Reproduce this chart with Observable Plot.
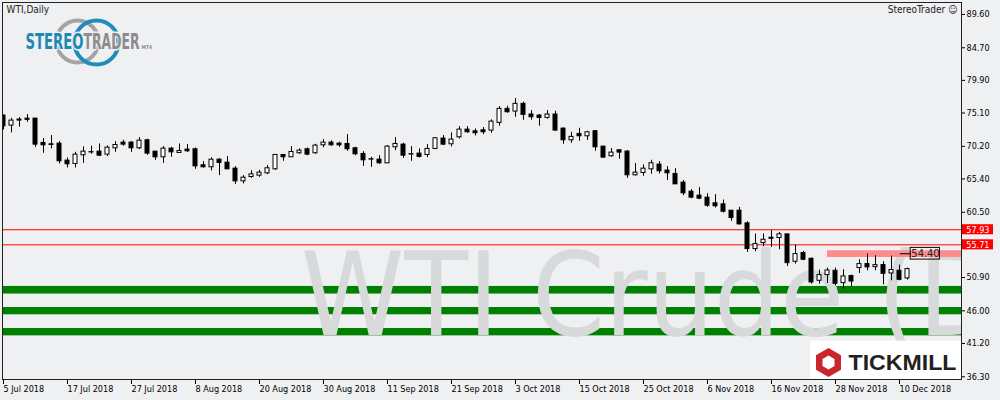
<!DOCTYPE html>
<html><head><meta charset="utf-8">
<script src="https://cdn.jsdelivr.net/npm/d3@7"></script>
<script src="https://cdn.jsdelivr.net/npm/@observablehq/plot@0.6"></script>
<style>
html,body{margin:0;padding:0;background:#eff0f2;}
#chart{width:1000px;height:400px;overflow:hidden;}
</style></head><body><div id="chart"></div>
<script>
// ---- data ----
const dateTicks = [0, 8, 16, 24, 32, 40, 48, 56, 64, 72, 80, 88, 96, 104, 112];
const dateLabels = ["5 Jul 2018","17 Jul 2018","27 Jul 2018","8 Aug 2018","20 Aug 2018","30 Aug 2018","11 Sep 2018","21 Sep 2018","3 Oct 2018","15 Oct 2018","25 Oct 2018","6 Nov 2018","16 Nov 2018","28 Nov 2018","10 Dec 2018"];
const priceTicks = [36.30, 41.20, 46.00, 50.90, 60.50, 65.40, 70.20, 75.10, 79.90, 84.70, 89.60];

const open = [74.72,73.25,73.99,74.28,74.28,70.70,70.50,70.60,68.10,67.61,68.88,69.30,69.42,68.98,69.91,70.75,70.75,69.91,71.09,69.42,68.59,69.86,69.23,69.72,69.77,67.41,67.12,68.24,67.80,66.92,
65.05,65.69,65.89,66.23,66.82,68.93,68.59,69.18,69.77,69.18,70.35,70.75,70.60,70.55,69.91,69.08,68.30,68.24,67.70,70.06,70.45,69.00,69.13,68.93,69.82,71.34,70.50,71.53,72.66,72.41,
72.56,72.52,73.65,75.71,75.32,76.45,74.88,74.73,74.38,74.88,72.81,71.09,72.03,71.68,72.42,70.16,68.74,69.62,69.43,65.94,66.28,66.82,67.51,66.63,66.14,64.86,63.53,62.95,62.65,61.82,
61.66,60.73,60.73,58.87,55.09,55.97,56.76,56.71,57.25,53.22,54.50,53.66,50.42,51.26,51.90,50.08,51.11,52.29,52.88,52.43,52.73,51.50,51.90,50.77];
const high = [74.82,74.33,74.43,74.87,74.28,71.34,71.78,70.89,68.49,69.32,70.11,70.21,70.55,70.26,70.89,71.09,70.89,71.48,71.24,69.42,70.16,70.06,70.55,70.45,69.96,67.95,68.49,68.39,68.69,67.21,
65.89,66.62,66.67,67.36,68.93,69.00,70.16,69.82,69.96,70.50,71.19,71.00,70.80,71.93,70.06,69.42,68.59,68.83,70.31,71.48,70.65,70.16,69.82,70.45,71.48,71.78,72.17,73.10,73.10,72.76,
72.96,74.09,76.05,76.10,77.23,76.69,75.46,74.88,75.46,75.37,72.91,72.27,72.86,72.42,72.52,70.16,69.87,69.67,69.57,67.66,67.46,68.15,67.95,67.22,66.92,65.16,63.83,64.12,63.24,63.09,
62.30,60.73,61.22,59.11,57.30,57.30,57.79,57.54,57.25,55.68,54.74,53.76,51.99,52.29,52.29,52.04,51.26,53.51,54.35,54.10,53.22,54.06,52.73,52.29];
const low = [72.61,72.17,73.01,73.74,70.06,69.18,69.82,67.61,67.02,67.02,67.70,69.03,68.69,68.69,69.32,70.21,69.32,69.72,68.88,68.15,67.70,68.59,69.23,69.32,66.82,67.02,66.58,65.89,66.82,64.61,
64.66,65.49,65.64,66.03,66.67,68.00,68.59,69.03,68.83,69.03,70.00,70.21,70.06,69.47,68.83,67.26,67.12,67.56,67.70,69.57,68.44,68.00,68.49,68.54,69.72,70.31,70.11,71.29,72.12,71.73,
71.93,72.13,73.16,75.07,74.48,74.04,74.04,73.16,74.19,72.42,70.51,70.65,70.95,71.09,69.48,68.44,68.59,68.30,65.50,65.84,65.79,66.09,66.14,65.16,64.61,62.95,62.50,62.36,61.23,61.13,
60.39,59.16,58.62,54.60,54.69,55.43,55.33,54.99,52.53,52.88,53.37,49.93,49.93,50.03,49.69,49.20,49.54,51.50,51.90,51.90,49.83,50.42,50.42,50.52];
const close = [73.15,73.99,74.14,74.10,70.45,70.35,70.40,68.00,67.56,68.98,69.42,69.35,68.83,70.01,70.40,70.45,69.91,71.04,69.13,68.59,69.86,69.32,69.52,69.47,67.26,67.12,68.24,67.75,66.82,65.05,
65.59,66.08,66.33,66.97,68.93,68.59,69.37,69.57,68.98,70.31,70.75,70.35,70.35,69.77,69.03,68.15,68.25,67.70,70.16,70.55,68.83,69.05,68.64,69.82,71.39,70.45,71.19,72.66,72.27,72.12,
72.27,73.84,75.71,75.22,76.45,74.83,74.48,74.38,74.88,72.52,71.09,71.59,71.68,72.27,70.06,68.54,69.28,69.28,65.94,66.33,66.92,67.71,66.53,66.23,64.61,63.29,62.65,62.50,61.47,61.38,
60.58,59.65,58.72,55.09,55.82,56.46,56.60,57.25,53.02,54.35,53.52,50.18,51.26,51.94,49.98,51.06,50.32,52.88,52.39,52.73,51.45,52.00,50.57,52.14];

const levels = [57.93, 55.71];
const supportBands = [[48.47, 49.59], [45.42, 46.49], [42.32, 43.40]];
const resistanceZone = [{start: 103, lo: 53.85, hi: 54.84}];
const priceMarker = [{value: 54.40, label: "54.40"}];
const watermark = ["WTI Crude (Daily)"];

// ---- chart ----
const FONT = "'DejaVu Sans Condensed', 'DejaVu Sans', sans-serif";
const BG = "#eff0f2";
const candles = open.map((o, i) => ({i, open: o, high: high[i], low: low[i], close: close[i], up: close[i] >= o}));
const X0 = -0.125, X1 = 119.75;
const Y0 = 35.9, Y1 = 91.36;

const plot = Plot.plot({
  width: 1000, height: 400,
  marginLeft: 2, marginRight: 39, marginTop: 2, marginBottom: 21,
  style: {background: BG, fontFamily: FONT, fontSize: "9px", color: "#000"},
  x: {type: "linear", domain: [X0, X1], axis: null},
  y: {domain: [Y0, Y1], axis: null},
  marks: [
    // support bands
    Plot.rect(supportBands, {x1: X0, x2: X1, y1: d => d[0], y2: d => d[1], fill: "#008000"}),
    // watermark
    Plot.text(watermark, {x: 37.2, y: 42.45, text: d => d, textAnchor: "start", lineAnchor: "bottom",
      fontSize: 116, fill: "#d8d9da", clip: true, fontFamily: FONT}),
    // resistance zone
    Plot.rect(resistanceZone, {x1: "start", x2: X1, y1: "lo", y2: "hi", fill: "#ff8c8c"}),
    // horizontal levels
    Plot.ruleY(levels, {stroke: "#ff0000"}),
    // candles
    Plot.ruleX(candles, {x: "i", y1: "low", y2: "high", stroke: "#000", clip: true}),
    Plot.rect(candles, {x1: d => d.i - 0.25, x2: d => d.i + 0.25, y1: "open", y2: "close",
      fill: d => d.up ? "#ffffff" : "#000000", stroke: "#000", clip: true}),
    // price marker
    Plot.ruleY(priceMarker, {y: "value", x1: 112.1, x2: 113.4, stroke: "#000"}),
    Plot.rect(priceMarker, {x1: 113.4, x2: 117.05, y1: d => d.value - 0.86, y2: d => d.value + 0.86,
      fill: "none", stroke: "#000"}),
    Plot.text(priceMarker, {x: 115.25, y: "value", text: "label", fontSize: 11, fill: "#222"}),
    // tickmill logo box
    Plot.rect([0], {x1: 100.875, x2: X1, y1: Y0, y2: 41.55, fill: "#ffffff"}),
    Plot.dot([0], {frameAnchor: "bottom-right", dx: -133, dy: -17, symbol: "hexagon", r: 12.5, fill: "#c8252c"}),
    Plot.dot([0], {frameAnchor: "bottom-right", dx: -133, dy: -17, symbol: "hexagon", r: 6, fill: "#ffffff"}),
    Plot.text(["TICKMILL"], {frameAnchor: "bottom-right", dx: -5, dy: -10, lineAnchor: "bottom", textAnchor: "end",
      fontSize: 22, fontWeight: "bold", fontFamily: "'Liberation Sans', sans-serif", fill: "#231f20"}),
    // stereotrader logo
    Plot.dot([0], {frameAnchor: "top-left", dx: 75, dy: 39, r: 21, stroke: "#a3a3a3", strokeWidth: 4, fill: "none"}),
    Plot.dot([0], {frameAnchor: "top-left", dx: 94, dy: 40, r: 22, stroke: "#1e8db8", strokeWidth: 4, fill: "none"}),
    Plot.text(["STEREO"], {frameAnchor: "top-left", dx: 23, dy: 46, lineAnchor: "bottom", textAnchor: "start",
      fontSize: 22, fontWeight: "bold", fill: "#1e88b3", stroke: BG, strokeWidth: 3, paintOrder: "stroke"}),
    Plot.text(["TRADER"], {frameAnchor: "top-left", dx: 81, dy: 46, lineAnchor: "bottom", textAnchor: "start",
      fontSize: 22, fontWeight: "bold", fill: "#8c8c8c", stroke: BG, strokeWidth: 3, paintOrder: "stroke"}),
    Plot.text(["MT4"], {frameAnchor: "top-left", dx: 139, dy: 46, lineAnchor: "bottom", textAnchor: "start",
      fontSize: 5, fontWeight: "bold", fill: "#8c8c8c"}),
    // top labels
    Plot.text(["WTI,Daily"], {frameAnchor: "top-left", dx: 4, dy: 3, fontSize: 10, fill: "#222"}),
    Plot.text(["StereoTrader \u263A"], {frameAnchor: "top-right", dx: -4, dy: 3, fontSize: 10, fill: "#222"}),
    // frame
    Plot.frame({stroke: "#222"}),
    // level labels on axis
    Plot.rect(levels, {x1: X1 + 0.125, x2: X1 + 4, y1: d => d - 0.74, y2: d => d + 0.74, fill: "#ff0000"}),
    Plot.text(levels, {x: X1 + 0.6, y: d => d, text: d => d.toFixed(2), fill: "#ffffff", textAnchor: "start", fontSize: 9}),
    // axes
    Plot.axisY(priceTicks, {anchor: "right", tickSize: 3, tickPadding: 2, tickFormat: d => d.toFixed(2), fontSize: 9}),
    Plot.axisX(dateTicks, {anchor: "bottom", tickSize: 5, tickPadding: 1, textAnchor: "start", dx: 0,
      tickFormat: d => dateLabels[dateTicks.indexOf(d)], fontSize: 9})
  ]
});
document.getElementById("chart").appendChild(plot);

// fit logo text widths
const fit = {"STEREO": 58, "TRADER": 56, "TICKMILL": 108};
d3.select(plot).selectAll("text").each(function () {
  const t = this.textContent;
  if (fit[t]) d3.select(this).attr("textLength", fit[t]).attr("lengthAdjust", "spacingAndGlyphs");
});
</script>
</body></html>
